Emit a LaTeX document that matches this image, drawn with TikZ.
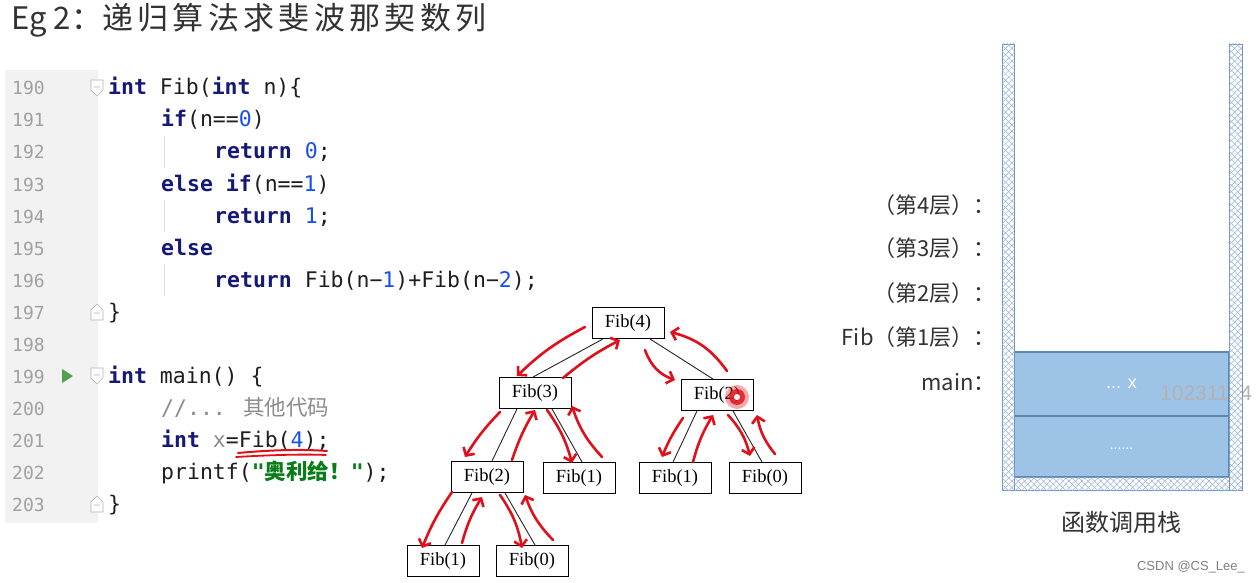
\documentclass[tikz,border=0pt]{standalone}
\usepackage{fontspec}
\usetikzlibrary{arrows.meta,positioning,calc,patterns.meta}
\newfontfamily\cjk{Noto Sans CJK SC}
\newfontfamily\codefont{DejaVu Sans Mono}
\newfontfamily\treefont{Liberation Serif}
\newfontfamily\wmfont{Liberation Sans}
\definecolor{kwblue}{RGB}{20,25,120}
\definecolor{numblue}{RGB}{23,80,235}
\definecolor{strgreen}{RGB}{6,125,23}
\definecolor{cmtgray}{RGB}{140,140,140}
\definecolor{gutterbg}{RGB}{242,242,242}
\definecolor{linenogray}{RGB}{160,160,160}
\definecolor{codetext}{RGB}{30,30,30}
\definecolor{inkred}{RGB}{225,15,25}
\definecolor{rungreen}{RGB}{80,160,80}
\definecolor{framefill}{RGB}{157,195,230}
\definecolor{frameline}{RGB}{95,135,180}
\definecolor{wallline}{RGB}{110,150,200}
\definecolor{hatch}{RGB}{150,178,215}
\definecolor{labeltext}{RGB}{50,50,50}
\newcommand{\kwd}[1]{\textcolor{kwblue}{\bfseries #1}}
\newcommand{\cnum}[1]{\textcolor{numblue}{#1}}
\newcommand{\cstr}[1]{\textcolor{strgreen}{\bfseries #1}}

\begin{document}
\begin{tikzpicture}[x=1pt, y=-1pt,
    code/.style={anchor=base west, inner sep=0pt, text=codetext, font=\codefont\fontsize{21.5}{21.5}\selectfont},
    lineno/.style={anchor=base west, inner sep=0pt, text=linenogray, font=\codefont\fontsize{18}{18}\selectfont},
    fib/.style={draw, line width=0.9pt, minimum width=72pt, minimum height=31pt, inner sep=0pt, font=\treefont\fontsize{18.5}{18.5}\selectfont},
    edge/.style={draw=black!85, line width=0.9pt},
    ink/.style={draw=inkred, line width=2.6pt, line cap=round, -{Straight Barb[length=6pt,width=13pt]}},
    lvl/.style={anchor=east, inner sep=0pt, text=labeltext, font=\cjk\fontsize{22}{22}\selectfont},
    frame/.style={draw=frameline, line width=1.2pt, fill=framefill, minimum width=215pt, inner sep=0pt, text=white, font=\wmfont\fontsize{18}{18}\selectfont},
    wall/.style={draw=wallline, line width=0.8pt, fill=white,
      postaction={pattern={Lines[angle=45,distance=4.5pt,line width=0.5pt]}, pattern color=hatch},
      postaction={pattern={Lines[angle=-45,distance=4.5pt,line width=0.5pt]}, pattern color=hatch}}]
  \useasboundingbox[fill=white] (0,0) rectangle (1256,583);

  % title
  \node[anchor=west, inner sep=0pt, text=labeltext, font=\cjk\fontsize{31}{31}\selectfont] (title) at (11,20)
    {Eg 2：{\addfontfeature{LetterSpace=14}递归算法求斐波那契数列}};

  % editor gutter
  \fill[gutterbg] (5,70) rectangle (98,523);
  \foreach \n [count=\i from 0] in {190,...,203}
    \node[lineno] (ln\n) at (12,{95+32*\i}) {\n};
  \fill[rungreen] (62,369) -- (73,376) -- (62,383) -- cycle;
  \foreach \y in {88,376}
    \draw[black!30, fill=white, line width=0.6pt] (91,{\y-8}) -- (103,{\y-8}) -- (103,{\y+2}) -- (97,{\y+8}) -- (91,{\y+2}) -- cycle
      (94,{\y-1}) -- (100,{\y-1});
  \foreach \y in {312,504}
    \draw[black!30, fill=white, line width=0.6pt] (91,{\y+8}) -- (103,{\y+8}) -- (103,{\y-2}) -- (97,{\y-8}) -- (91,{\y-2}) -- cycle
      (94,{\y+1}) -- (100,{\y+1});
  \foreach \y in {136,200,264}
    \draw[black!12, line width=0.8pt] (164,\y) -- (164,{\y+32});

  % code
  \node[code] (c190) at (108,95) {\kwd{int} Fib(\kwd{int} n)\{};
  \node[code] (c191) at (161,127) {\kwd{if}(n==\cnum{0})};
  \node[code] (c192) at (214,159) {\kwd{return} \cnum{0};};
  \node[code] (c193) at (161,191) {\kwd{else} \kwd{if}(n==\cnum{1})};
  \node[code] (c194) at (214,223) {\kwd{return} \cnum{1};};
  \node[code] (c195) at (161,255) {\kwd{else}};
  \node[code] (c196) at (214,287) {\kwd{return} Fib(n−\cnum{1})+Fib(n−\cnum{2});};
  \node[code] (c197) at (108,319) {\}};
  \node[code] (c199) at (108,383) {\kwd{int} main() \{};
  \node[code] (c200) at (161,415) {\textcolor{cmtgray}{//... {\cjk 其他代码}}};
  \node[code] (c201) at (161,447) {\kwd{int} \textcolor{cmtgray}{x}=Fib(\cnum{4});};
  \node[code] (c202) at (161,479) {printf(\cstr{"{\cjk 奥利给！}"});};
  \node[code] (c203) at (108,511) {\}};
  \draw[inkred, line width=2pt, line cap=round] ([shift={(77,6)}]c201.base west) .. controls ([shift={(110,3)}]c201.base west) and ([shift={(140,2)}]c201.base west) .. ([shift={(166,4)}]c201.base west);
  \draw[inkred, line width=1.8pt, line cap=round] ([shift={(75,10)}]c201.base west) .. controls ([shift={(110,8)}]c201.base west) and ([shift={(140,7)}]c201.base west) .. ([shift={(165,8)}]c201.base west);

  % recursion tree
  \node[fib] (f4) at (628,323) {Fib(4)};
  \node[fib] (f3) at (535,393) {Fib(3)};
  \node[fib] (f2r) at (717,395) {Fib(2)};
  \node[fib] (f2l) at (487,477) {Fib(2)};
  \node[fib] (f1m) at (579,478) {Fib(1)};
  \node[fib] (f1r) at (675,478) {Fib(1)};
  \node[fib] (f0r) at (765,478) {Fib(0)};
  \node[fib] (f1b) at (443,561) {Fib(1)};
  \node[fib] (f0b) at (532,561) {Fib(0)};
  \draw[edge] ([xshift=-25pt]f4.south) -- ([xshift=-2pt]f3.north);
  \draw[edge] ([xshift=22pt]f4.south) -- ([xshift=-4pt]f2r.north);
  \draw[edge] ([xshift=-18pt]f3.south) -- ([xshift=5pt]f2l.north);
  \draw[edge] ([xshift=17pt]f3.south) -- ([xshift=3pt]f1m.north);
  \draw[edge] ([xshift=-20pt]f2r.south) -- ([xshift=-2pt]f1r.north);
  \draw[edge] ([xshift=16pt]f2r.south) -- ([xshift=-3pt]f0r.north);
  \draw[edge] ([xshift=-15pt]f2l.south) -- ([xshift=2pt]f1b.north);
  \draw[edge] ([xshift=18pt]f2l.south) -- ([xshift=3pt]f0b.north);

  % hand-drawn call / return arrows
  \draw[ink] ([shift={(-43,4)}]f4.center) to[bend right=8] ([shift={(-18,-17)}]f3.center);
  \draw[ink] ([shift={(28,-15)}]f3.center) to[bend left=6] ([shift={(-8,17)}]f4.center);
  \draw[ink] ([shift={(17,27)}]f4.center) to[bend right=25] ([shift={(-42,-15)}]f2r.center);
  \draw[ink] ([shift={(10,-24)}]f2r.center) to[bend right=20] ([shift={(42,9)}]f4.center);
  \draw[ink] ([shift={(-35,19)}]f3.center) to[bend right=6] ([shift={(-22,-20)}]f2l.center);
  \draw[ink] ([shift={(25,-17)}]f2l.center) to[bend left=6] ([shift={(0,17)}]f3.center);
  \draw[ink] ([shift={(12,17)}]f3.center) to[bend left=10] ([shift={(-7,-15)}]f1m.center);
  \draw[ink] ([shift={(23,-21)}]f1m.center) to[bend left=12] ([shift={(37,13)}]f3.center);
  \draw[ink] ([shift={(-35,15)}]f2l.center) to[bend right=6] ([shift={(-21,-13)}]f1b.center);
  \draw[ink] ([shift={(19,-18)}]f1b.center) to[bend left=8] ([shift={(-5,20)}]f2l.center);
  \draw[ink] ([shift={(13,18)}]f2l.center) to[bend left=12] ([shift={(-10,-13)}]f0b.center);
  \draw[ink] ([shift={(21,-21)}]f0b.center) to[bend left=12] ([shift={(38,18)}]f2l.center);
  \draw[ink] ([shift={(-34,23)}]f2r.center) to[bend right=6] ([shift={(-13,-21)}]f1r.center);
  \draw[ink] ([shift={(18,-16)}]f1r.center) to[bend left=8] ([shift={(-4,20)}]f2r.center);
  \draw[ink] ([shift={(11,20)}]f2r.center) to[bend left=14] ([shift={(-15,-22)}]f0r.center);
  \draw[ink] ([shift={(10,-24)}]f0r.center) to[bend left=14] ([shift={(40,20)}]f2r.center);
  \fill[inkred, opacity=0.35] ([shift={(20,2)}]f2r.center) circle (12);
  \fill[inkred, opacity=0.8] ([shift={(20,2)}]f2r.center) circle (8);
  \fill[white] ([shift={(20,2)}]f2r.center) circle (3);

  % call stack
  \node[lvl] (lv4) at (996,205) {（第4层）：};
  \node[lvl] (lv3) at (996,248) {（第3层）：};
  \node[lvl] (lv2) at (996,293) {（第2层）：};
  \node[lvl] (lv1) at (996,337) {Fib（第1层）：};
  \node[lvl] (lvm) at (996,382) {main：};
  \node[frame, minimum height=64pt] (mainfr) at (1121.5,384) {\raisebox{-3pt}{... x}};
  \node[frame, minimum height=61pt, font=\wmfont\fontsize{14}{14}\selectfont] (osfr) at (1121.5,446.5) {\raisebox{-5pt}{......}};
  \node[anchor=west, inner sep=0pt, text=black!30, font=\wmfont\fontsize{21}{21}\selectfont] (wm) at (1160,393) {10231164};
  \draw[wall] (1002,44) rectangle (1014,490);
  \draw[wall] (1229,44) rectangle (1242,490);
  \draw[wall] (1014,477) rectangle (1229,490);
  \node[text=labeltext, font=\cjk\fontsize{24}{24}\selectfont] (stkcap) at (1121,522) {函数调用栈};
  \node[text=black!50, font=\wmfont\fontsize{13}{13}\selectfont] (csdn) at (1191,567) {CSDN @CS\_Lee\_};
\end{tikzpicture}
\end{document}
